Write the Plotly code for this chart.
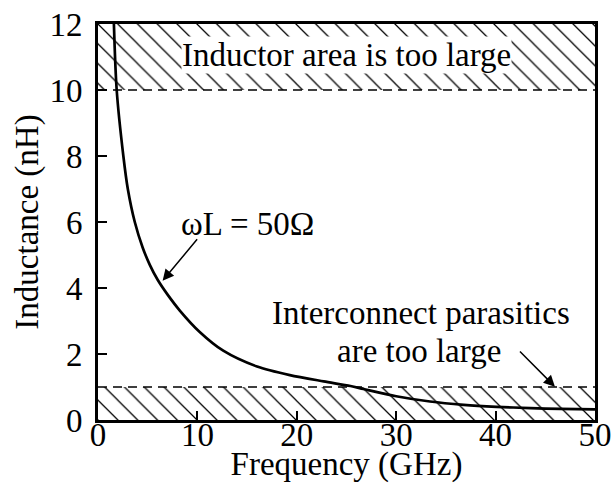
import plotly.graph_objects as go

# Curve: frequency (GHz) vs inductance (nH)
freq_ghz = [1.6, 1.88, 2.55, 3.0, 3.7, 4.5, 5.2, 6.0, 7.0, 8.25, 10.26, 12.6, 16.0, 19.3,
            22.7, 25.4, 26.7, 30.0, 33.4, 36.8, 40.1, 43.5, 46.5, 50.0]
induct_nh = [12.0, 10.0, 8.0, 7.0, 6.0, 5.22, 4.71, 4.25, 3.80, 3.31, 2.66, 2.10, 1.62, 1.36,
             1.17, 1.03, 0.94, 0.72, 0.56, 0.46, 0.40, 0.36, 0.335, 0.32]

# Forbidden bands (nH)
upper_band = [10, 12]
lower_band = [0, 1]
x_range = [0, 50]
y_range = [0, 12]
x_ticks = [0, 10, 20, 30, 40, 50]
y_ticks = [0, 2, 4, 6, 8, 10, 12]

FONT = "Liberation Serif"
FS = 33

fig = go.Figure()

pattern = dict(shape="\\", fgcolor="black", bgcolor="white", size=14, solidity=0.09, fillmode="replace")
for band in (upper_band, lower_band):
    fig.add_trace(go.Scatter(
        x=[x_range[0], x_range[1], x_range[1], x_range[0], x_range[0]],
        y=[band[0], band[0], band[1], band[1], band[0]],
        fill="toself", fillcolor="white", fillpattern=pattern,
        line=dict(width=0), mode="lines", hoverinfo="skip", showlegend=False))

# dashed boundaries
for yv in (upper_band[0], lower_band[1]):
    fig.add_trace(go.Scatter(x=x_range, y=[yv, yv], mode="lines",
                             line=dict(color="black", width=1.3, dash="9px,6px"),
                             showlegend=False, hoverinfo="skip"))

fig.add_trace(go.Scatter(x=freq_ghz, y=induct_nh, mode="lines",
                         line=dict(color="black", width=2.7, shape="spline", smoothing=0.8),
                         showlegend=False))

ann_font = dict(family=FONT, size=FS, color="black")
fig.add_annotation(x=25, y=11.05, xref="x", yref="y", text="Inductor area is too large",
                   showarrow=False, font=ann_font, bgcolor="white", borderpad=0,
                   xanchor="center", yanchor="middle")
fig.add_annotation(x=15.05, y=5.94, xref="x", yref="y", text="ωL = 50Ω",
                   showarrow=False, font=ann_font, xanchor="center", yanchor="middle")
fig.add_annotation(x=6.5, y=4.22, ax=10.1, ay=5.52, xref="x", yref="y", axref="x", ayref="y",
                   text="", showarrow=True, arrowhead=2, arrowsize=1.5, arrowwidth=1.5,
                   arrowcolor="black")
fig.add_annotation(x=32.5, y=3.24, xref="x", yref="y", text="Interconnect parasitics",
                   showarrow=False, font=ann_font, xanchor="center", yanchor="middle")
fig.add_annotation(x=32.3, y=2.10, xref="x", yref="y", text="are too large",
                   showarrow=False, font=ann_font, xanchor="center", yanchor="middle")
fig.add_annotation(x=45.97, y=1.01, ax=42.3, ay=2.12, xref="x", yref="y", axref="x", ayref="y",
                   text="", showarrow=True, arrowhead=2, arrowsize=1.5, arrowwidth=1.5,
                   arrowcolor="black")

axis_common = dict(showgrid=False, zeroline=False, showline=True, linecolor="black",
                   linewidth=3, mirror=True, ticks="inside", ticklen=9, tickwidth=2,
                   tickcolor="black", tickfont=dict(family=FONT, size=FS, color="black"),
                   automargin=False)

fig.update_xaxes(range=x_range, tickvals=x_ticks, ticktext=[str(v) for v in x_ticks],
                 ticklabelstandoff=-17,
                 title=dict(text="Frequency (GHz)", font=dict(family=FONT, size=FS, color="black"),
                            standoff=21),
                 **axis_common)
fig.update_yaxes(range=y_range, tickvals=y_ticks, ticktext=[str(v) for v in y_ticks],
                 ticklabelstandoff=6,
                 title=dict(text="Inductance (nH)", font=dict(family=FONT, size=FS, color="black"),
                            standoff=1),
                 **axis_common)

fig.update_layout(width=612, height=483, margin=dict(l=98, r=17, t=24, b=63),
                  plot_bgcolor="white", paper_bgcolor="white", showlegend=False)

fig.write_html("out.html")
